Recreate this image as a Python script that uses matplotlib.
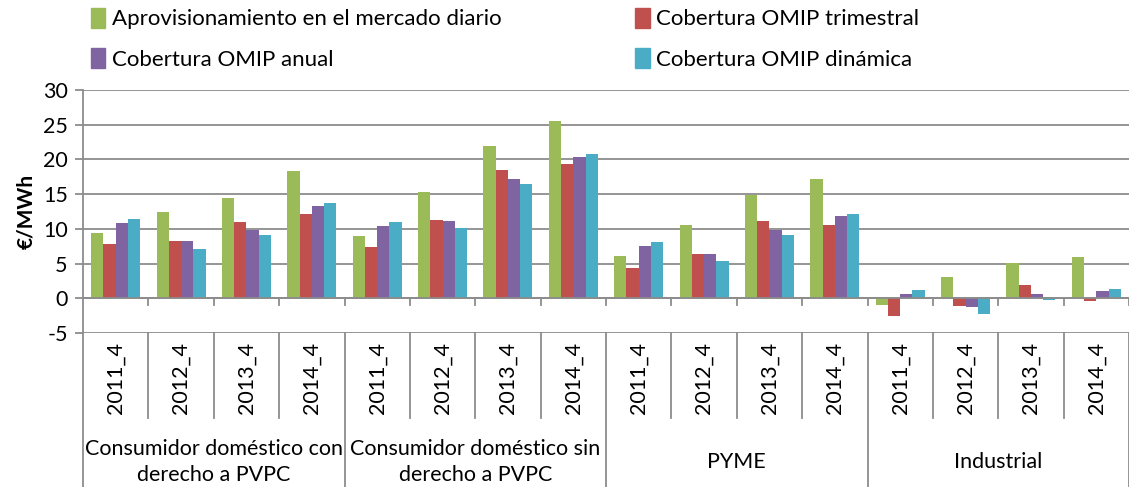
import numpy as np
from matplotlib import pyplot as plt
from matplotlib.patches import Patch
from matplotlib.transforms import blended_transform_factory

plt.rcParams["font.family"] = ["Lato", "DejaVu Sans"]
plt.rcParams["font.size"] = 15.5
plt.rcParams["axes.unicode_minus"] = False

# data (EUR/MWh)
groups = ["Consumidor doméstico con\nderecho a PVPC",
          "Consumidor doméstico sin\nderecho a PVPC",
          "PYME", "Industrial"]
years = ["2011_4", "2012_4", "2013_4", "2014_4"]

series_names = ["Aprovisionamiento en el mercado diario",
                "Cobertura OMIP trimestral",
                "Cobertura OMIP anual",
                "Cobertura OMIP dinámica"]
colors = ["#9BBB59", "#C0504D", "#8064A2", "#4BACC6"]

diario     = [9.4, 12.4, 14.4, 18.3,  8.95, 15.3, 21.9, 25.5,  6.1, 10.6, 14.9, 17.2,  -1.0, 3.0, 5.1, 5.9]
trimestral = [7.8, 8.3, 11.0, 12.1,   7.4, 11.3, 18.5, 19.3,   4.4, 6.45, 11.2, 10.5,  -2.55, -1.15, 1.97, -0.4]
anual      = [10.9, 8.2, 9.8, 13.3,   10.4, 11.1, 17.2, 20.4,  7.6, 6.4, 9.9, 11.8,    0.6, -1.3, 0.67, 1.0]
dinamica   = [11.4, 7.1, 9.05, 13.7,  11.0, 10.1, 16.5, 20.8,  8.1, 5.3, 9.05, 12.2,   1.2, -2.3, -0.3, 1.4]
series = [diario, trimestral, anual, dinamica]

W, H = 1129, 487
fig = plt.figure(figsize=(W / 100, H / 100), dpi=100)
ax = fig.add_axes([83 / W, 1 - 333 / H, (W - 83) / W, 243 / H])

ncat = len(groups) * len(years)
x = np.arange(ncat)
bw = 0.1875
for k, vals in enumerate(series):
    ax.bar(x + 0.5 + (k - 1.5) * bw, vals, bw, color=colors[k], zorder=3)

ax.set_xlim(0, ncat)
ax.set_ylim(-5, 30)
ax.set_yticks(np.arange(-5, 31, 5))
ax.yaxis.grid(True, color="#8c8c8c", lw=1.3, zorder=0)
ax.tick_params(axis="y", length=6, color="#8c8c8c", width=1.3, labelsize=15.5, pad=5)
ax.set_xticks([])
for s in ["top", "right", "bottom"]:
    ax.spines[s].set_visible(False)
ax.spines["left"].set_color("#8c8c8c")
ax.spines["left"].set_linewidth(1.3)
ax.set_ylabel("€/MWh", fontweight="bold", fontsize=15, labelpad=5)

# zero line with small ticks between categories
ax.axhline(0, color="#8c8c8c", lw=1.3, zorder=4)
for b in range(1, ncat + 1):
    ax.plot([b, b], [0, -0.9], color="#8c8c8c", lw=1.3, zorder=4, clip_on=False)

# hierarchical category axis below the plot
tr = blended_transform_factory(ax.transData, ax.transAxes)
for b in range(0, ncat + 1):
    bottom = -0.634 if b % 4 == 0 else -0.35
    ax.plot([b, b], [0, bottom], color="#8c8c8c", lw=1.3, transform=tr, clip_on=False)
for i in range(ncat):
    ax.text(i + 0.5, -0.185, years[i % 4], rotation=90, ha="center", va="center",
            transform=tr, fontsize=15.5)
for g, name in enumerate(groups):
    ax.text(g * 4 + 2, -0.53, name, ha="center", va="center", transform=tr,
            fontsize=15.5, linespacing=1.35)

handles = [Patch(color=colors[i]) for i in [0, 2, 1, 3]]
labels = [series_names[i] for i in [0, 2, 1, 3]]
fig.legend(handles, labels, ncol=2, loc="upper left", bbox_to_anchor=(71 / W, 1.025),
           frameon=False, fontsize=16, handlelength=0.65, handleheight=1.0,
           handletextpad=0.3, columnspacing=6.0, labelspacing=0.85)

fig.savefig("out.png", dpi=100)
